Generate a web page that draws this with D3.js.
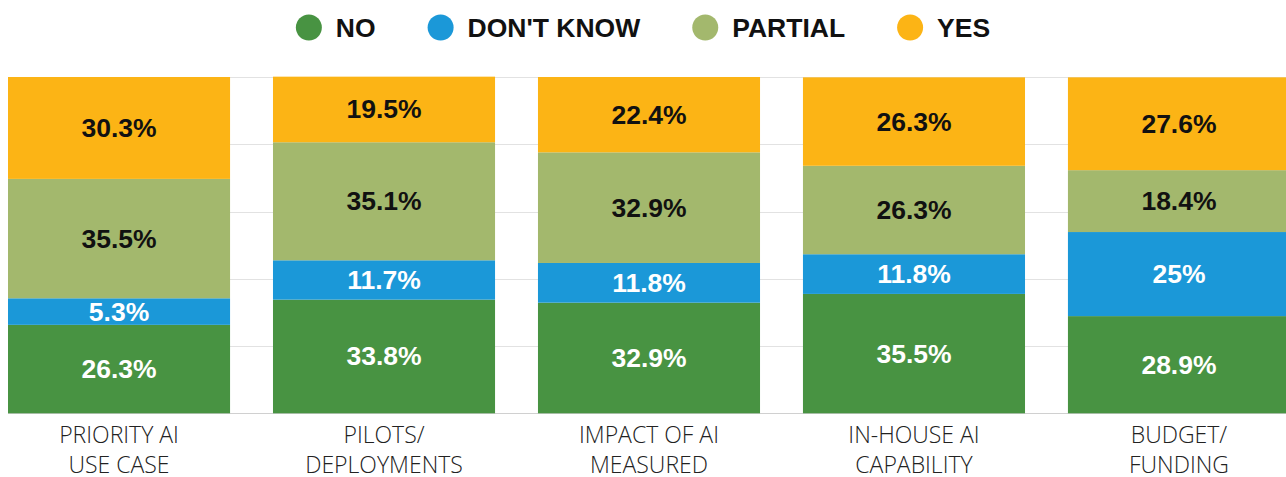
<!DOCTYPE html>
<html>
<head>
<meta charset="utf-8">
<script src="https://cdn.jsdelivr.net/npm/d3@7"></script>
<style>
  html, body { margin: 0; padding: 0; background: #fff; overflow: hidden; }
  svg { display: block; }
</style>
</head>
<body>
<script>
const width = 1286
const height = 477

// categories (two text lines each)
const categories = ["PRIORITY AI USE CASE", "PILOTS/ DEPLOYMENTS", "IMPACT OF AI MEASURED", "IN-HOUSE AI CAPABILITY", "BUDGET/ FUNDING"]
const categoryLines = [["PRIORITY AI", "USE CASE"], ["PILOTS/", "DEPLOYMENTS"], ["IMPACT OF AI", "MEASURED"], ["IN-HOUSE AI", "CAPABILITY"], ["BUDGET/", "FUNDING"]]

// series values (segment heights as drawn)
const no = [26.3, 33.8, 32.9, 35.5, 28.9]
const dontKnow = [7.9, 11.7, 11.8, 11.8, 25]
const partial = [35.5, 35.1, 32.9, 26.3, 18.4]
const yes = [30.3, 19.5, 22.4, 26.3, 27.6]
// printed labels for "don't know" (first bar prints 5.3% although its segment is taller)
const dontKnowPrinted = [5.3, 11.7, 11.8, 11.8, 25]

const yTicks = [0, 20, 40, 60, 80, 100]

const seriesKeys = ["NO", "DON'T KNOW", "PARTIAL", "YES"]
const colors = { "NO": "#489342", "DON'T KNOW": "#1b98d8", "PARTIAL": "#a3b86d", "YES": "#fcb415" }
const labelColors = { "NO": "#ffffff", "DON'T KNOW": "#ffffff", "PARTIAL": "#111111", "YES": "#111111" }

const rows = categories.map((c, i) => ({
  cat: c,
  "NO": no[i],
  "DON'T KNOW": dontKnow[i],
  "PARTIAL": partial[i],
  "YES": yes[i],
  printed: { "NO": no[i], "DON'T KNOW": dontKnowPrinted[i], "PARTIAL": partial[i], "YES": yes[i] }
}))

const svg = d3.select("body").append("svg")
    .attr("width", width)
    .attr("height", height)
    .attr("xmlns", "http://www.w3.org/2000/svg")

const x = d3.scaleBand()
    .domain(categories)
    .range([8, 1290])
    .paddingInner(0.162)
    .paddingOuter(0)

const y = d3.scaleLinear()
    .domain([0, 100])
    .range([413.3, 77])

// gridlines
svg.append("g")
  .selectAll("line")
  .data(yTicks)
  .join("line")
    .attr("x1", 8)
    .attr("x2", width)
    .attr("y1", d => Math.round(y(d)) + 0.5)
    .attr("y2", d => Math.round(y(d)) + 0.5)
    .style("stroke", d => d === 0 ? "#d0d0d0" : "#e2e2e2")
    .style("stroke-width", 1)

const stack = d3.stack().keys(seriesKeys)
const stacked = stack(rows)

const layers = svg.append("g")
  .selectAll("g")
  .data(stacked)
  .join("g")
    .style("fill", d => colors[d.key])

layers.selectAll("rect")
  .data(d => d)
  .join("rect")
    .attr("x", d => x(d.data.cat))
    .attr("y", d => y(d[1]))
    .attr("width", x.bandwidth())
    .attr("height", d => y(d[0]) - y(d[1]))

// value labels
const labels = svg.append("g")
  .selectAll("g")
  .data(stacked)
  .join("g")
    .style("fill", d => labelColors[d.key])

labels.each(function(layer) {
  d3.select(this).selectAll("text")
    .data(layer)
    .join("text")
      .attr("x", d => x(d.data.cat) + x.bandwidth() / 2)
      .attr("y", d => (y(d[0]) + y(d[1])) / 2)
      .attr("text-anchor", "middle")
      .attr("dominant-baseline", "central")
      .attr("font-family", "Liberation Sans, Arial, sans-serif")
      .attr("font-weight", "bold")
      .attr("font-size", "26.5px")
      .text(d => d.data.printed[layer.key] + "%")
})

// category labels
const catLabels = svg.append("g")
  .selectAll("text")
  .data(categories)
  .join("text")
    .attr("x", d => x(d) + x.bandwidth() / 2)
    .attr("y", 443)
    .attr("text-anchor", "middle")
    .attr("font-family", "Open Sans, sans-serif")
    .attr("font-weight", 300)
    .attr("font-size", "23px")
    .style("fill", "#222")

catLabels.each(function(d, i) {
  d3.select(this).selectAll("tspan")
    .data(categoryLines[i])
    .join("tspan")
      .attr("x", x(d) + x.bandwidth() / 2)
      .attr("dy", (t, j) => j === 0 ? 0 : 29.5)
      .text(t => t)
})

// legend
const legend = svg.append("g")
let cursor = 0
seriesKeys.forEach(k => {
  const g = legend.append("g")
  g.append("circle")
      .attr("cx", 13)
      .attr("cy", 27.5)
      .attr("r", 13)
      .style("fill", colors[k])
  const t = g.append("text")
      .attr("x", 40)
      .attr("y", 37)
      .attr("font-family", "Liberation Sans, Arial, sans-serif")
      .attr("font-weight", "bold")
      .attr("font-size", "26.5px")
      .style("fill", "#111")
      .text(k)
  const w = 40 + t.node().getComputedTextLength()
  g.attr("transform", `translate(${cursor},0)`)
  cursor += w + 52
})
const legendWidth = cursor - 52
legend.attr("transform", `translate(${(width - legendWidth) / 2},0)`)
</script>
</body>
</html>
